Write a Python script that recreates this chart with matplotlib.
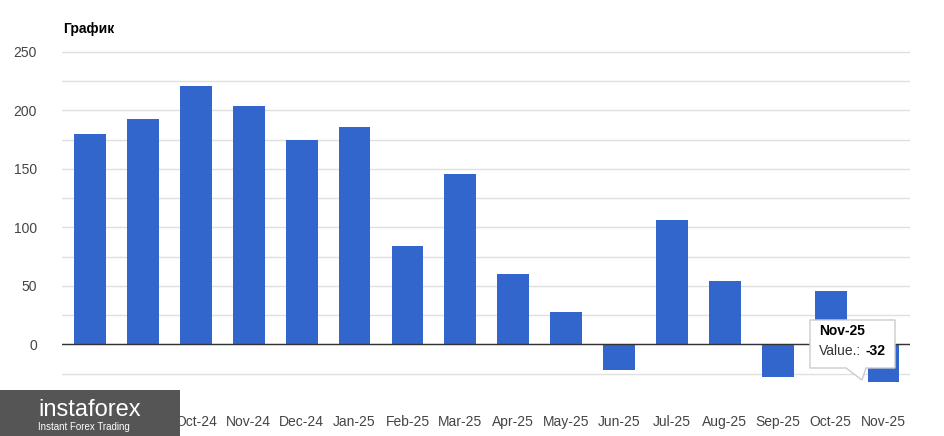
import matplotlib.pyplot as plt
from matplotlib.patches import Polygon

months = ["Aug-24", "Sep-24", "Oct-24", "Nov-24", "Dec-24", "Jan-25", "Feb-25", "Mar-25",
          "Apr-25", "May-25", "Jun-25", "Jul-25", "Aug-25", "Sep-25", "Oct-25", "Nov-25"]
values = [180, 193, 221, 204, 175, 186, 84, 146, 60, 28, -22, 106, 54, -28, 46, -32]

plt.rcParams['font.family'] = ['Arial', 'Liberation Sans', 'DejaVu Sans']
fig = plt.figure(figsize=(9.44, 4.36), dpi=100)
ax = fig.add_axes([62/944, 1-397/436, (910-62)/944, (397-46)/436])

x = range(len(months))
ax.bar(x, values, width=0.6, color="#3366cc", zorder=2)
ax.set_xlim(-0.53, 15.5)
ax.set_ylim(-45, 255)
ax.set_yticks([0, 50, 100, 150, 200, 250])
ax.set_yticks(range(-25, 251, 25), minor=True)
ax.grid(axis='y', which='both', color='#e0e0e0', lw=1, zorder=0)
ax.axhline(0, color='#333333', lw=1, zorder=3)
ax.set_xticks(list(x))
ax.set_xticklabels(months)
ax.tick_params(length=0, labelsize=10, colors='#444444', which='both')
ax.tick_params(axis='x', pad=13)
ax.tick_params(axis='y', pad=18)
for s in ax.spines.values():
    s.set_visible(False)

fig.text(63/944, 1-29/436, "График", fontsize=10, fontweight='bold', va='center')

# tooltip (pixel coords from top-left, flipped)
H = 436
pts = [[810, 320], [895, 320], [895, 368], [866, 368], [862, 380], [846, 368], [810, 368]]
tip = Polygon([[px, H - py] for px, py in pts], closed=True, transform=None,
              fc='white', ec='#cccccc', lw=1, zorder=5)
fig.patches.append(tip)
fig.text(819/944, 1-331/436, "Nov-25", fontsize=10, fontweight='bold', va='center', zorder=6)
fig.text(819/944, 1-351/436, "Value.:", fontsize=10, color='#333333', va='center', zorder=6)
fig.text(866/944, 1-351/436, "-32", fontsize=10, fontweight='bold', va='center', zorder=6)

# watermark
fig.patches.append(plt.Rectangle((0, 0), 180/944, 46/436, transform=fig.transFigure,
                                 fc='#555555', ec='none', zorder=7))
fig.text(38/944, 1-410/436, "instaforex", fontsize=17, color='white', va='center', zorder=8)
fig.text(38/944, 1-427/436, "Instant Forex Trading", fontsize=7, color='white', va='center', zorder=8)

fig.savefig("out.png", dpi=100)
